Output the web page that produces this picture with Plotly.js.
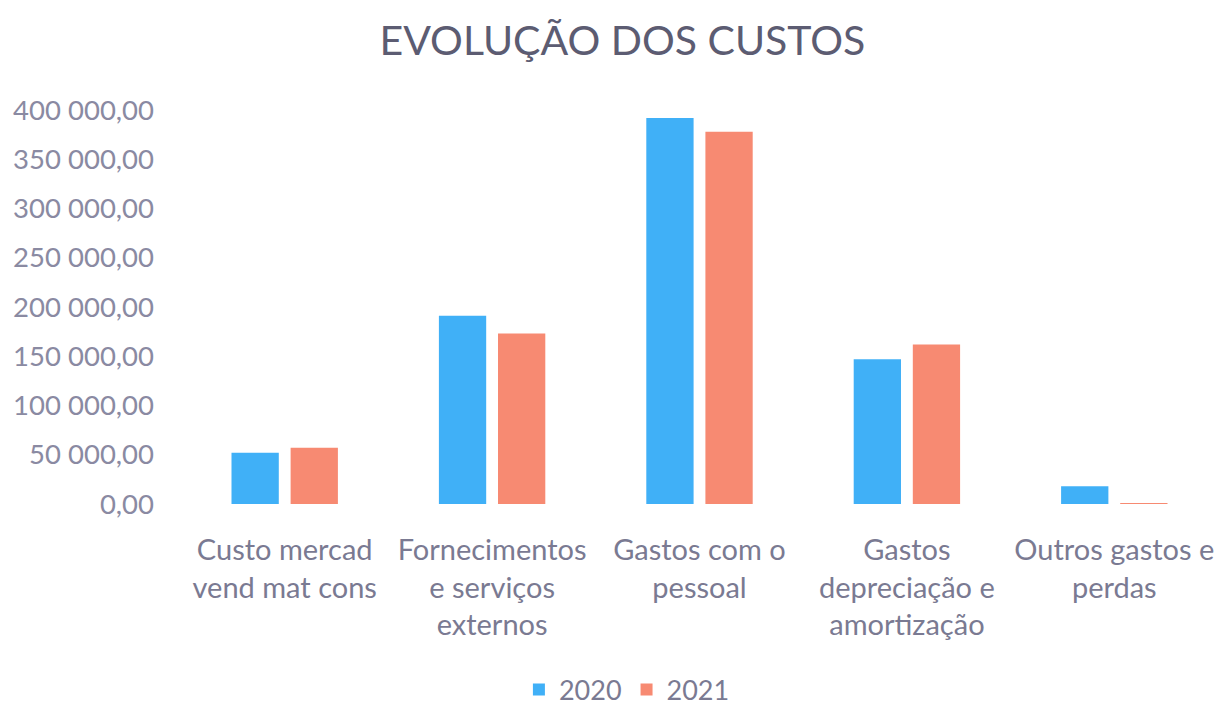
<!DOCTYPE html>
<html>
<head>
<meta charset="utf-8">
<script src="https://cdn.plot.ly/plotly-3.0.1.min.js"></script>
<style>html,body{margin:0;padding:0;background:#fff;}#chart{width:1218px;height:708px;}</style>
</head>
<body>
<div id="chart"></div>
<script>
const categories = [
  "Custo mercad<br>vend mat cons",
  "Fornecimentos<br>e serviços<br>externos",
  "Gastos com o<br>pessoal",
  "Gastos<br>depreciação e<br>amortização",
  "Outros gastos e<br>perdas"
];
const values2020 = [52000, 191000, 392000, 147000, 18000];
const values2021 = [57000, 173000, 378000, 162000, 1000];
const seriesNames = ["2020", "2021"];
const yTickVals = [0, 50000, 100000, 150000, 200000, 250000, 300000, 350000, 400000];
const yTickText = ["0,00", "50 000,00", "100 000,00", "150 000,00", "200 000,00", "250 000,00", "300 000,00", "350 000,00", "400 000,00"];

const FONT = "Lato, 'Open Sans', sans-serif";
const data = [
  {type: "bar", name: seriesNames[0], x: categories, y: values2020, marker: {color: "#40b0f7"}},
  {type: "bar", name: seriesNames[1], x: categories, y: values2021, marker: {color: "#f78a72"}}
];
const layout = {
  width: 1218, height: 708,
  margin: {l: 181, r: 0, t: 110, b: 204, autoexpand: false},
  paper_bgcolor: "#fff", plot_bgcolor: "#fff",
  barmode: "group", bargap: 0.43, bargroupgap: 0.2,
  title: {text: "EVOLUÇÃO DOS CUSTOS", x: 0.511, xanchor: "center", xref: "container",
          y: 0.943, yanchor: "middle", yref: "container",
          font: {family: FONT, size: 41, color: "#5c5c72"}},
  xaxis: {showgrid: false, zeroline: false, showline: false, ticks: "", automargin: false,
          tickangle: 0, ticklabelstandoff: 26,
          tickfont: {family: FONT, size: 29, color: "#7a7a92"}},
  yaxis: {range: [0, 400000], tickvals: yTickVals, ticktext: yTickText, automargin: false,
          showgrid: false, zeroline: false, showline: false, ticks: "",
          ticklabelstandoff: 26,
          tickfont: {family: FONT, size: 27.5, color: "#8a8aa2"}},
  showlegend: true,
  legend: {orientation: "h", x: 0.43, xanchor: "center", y: -0.472, yanchor: "middle",
           font: {family: FONT, size: 27, color: "#7a7a92"}, itemwidth: 30}
};
Plotly.newPlot("chart", data, layout, {displayModeBar: false, staticPlot: true});
</script>
</body>
</html>
